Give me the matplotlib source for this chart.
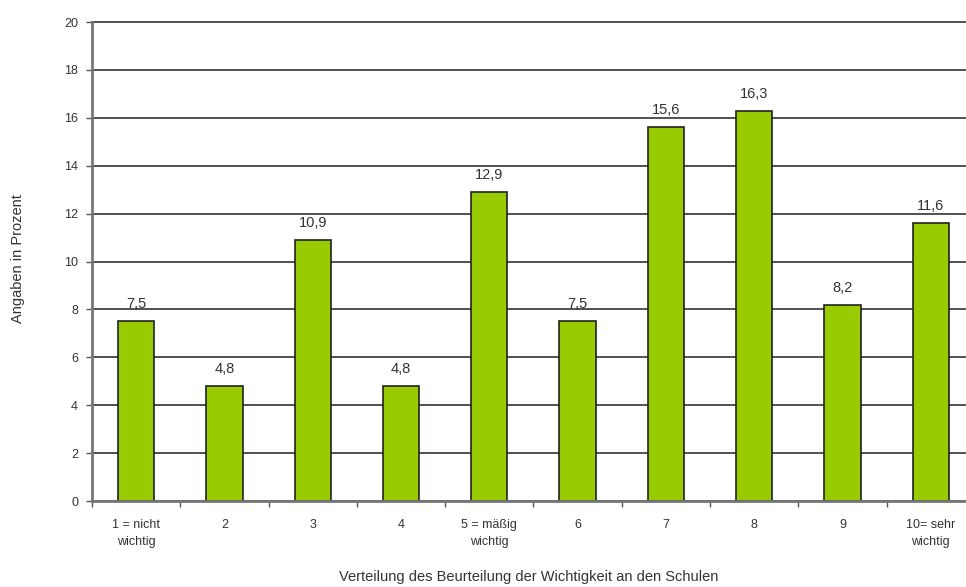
import matplotlib

matplotlib.use("Agg")
import matplotlib.pyplot as plt
import numpy as np

categories = ["1 = nicht\nwichtig", "2", "3", "4", "5 = mäßig\nwichtig",
              "6", "7", "8", "9", "10= sehr\nwichtig"]
values = [7.5, 4.8, 10.9, 4.8, 12.9, 7.5, 15.6, 16.3, 8.2, 11.6]
value_labels = ["7,5", "4,8", "10,9", "4,8", "12,9", "7,5", "15,6", "16,3", "8,2", "11,6"]
yticks = [0, 2, 4, 6, 8, 10, 12, 14, 16, 18, 20]

GREEN = "#99cc00"
INK = "#222222"

plt.rcParams["font.family"] = ["Liberation Sans", "DejaVu Sans"]

fig = plt.figure(figsize=(9.66, 5.87), dpi=100)
ax = fig.add_axes([0.0952, 0.1465, 0.914, 0.816])

x = np.arange(len(categories))
ax.bar(x, values, width=0.41, color=GREEN, edgecolor=INK, linewidth=1.2, zorder=3)
for xi, v, lab in zip(x, values, value_labels):
    ax.text(xi, v + 0.42, lab, ha="center", va="bottom", fontsize=10.5,
            color="#333333", zorder=1)

ax.set_xlim(-0.5, len(categories) - 0.5)
ax.set_ylim(0, 20)
ax.set_yticks(yticks)
ax.set_yticklabels([str(t) for t in yticks], fontsize=9, color="#333333")
ax.yaxis.grid(True, color=INK, linewidth=1.1, zorder=2)
for gl in ax.get_ygridlines():
    gl.set_clip_on(False)
ax.set_axisbelow(False)

ax.set_xticks(x)
ax.set_xticklabels(categories, fontsize=9, color="#333333", linespacing=1.5)
ax.set_xticks(np.arange(len(categories) + 1) - 0.5, minor=True)
ax.tick_params(axis="x", which="major", length=0, pad=13)
ax.tick_params(axis="x", which="minor", length=4, width=1, color="#555555")
ax.tick_params(axis="y", length=4, width=1, color="#555555", pad=6)

for side in ("top", "right"):
    ax.spines[side].set_visible(False)
ax.spines["left"].set_color("#777777")
ax.spines["left"].set_linewidth(2)
ax.spines["left"].set_zorder(4)
ax.spines["bottom"].set_color("#777777")
ax.spines["bottom"].set_linewidth(2)
ax.spines["bottom"].set_zorder(4)

fig.text(0.019, 0.559, "Angaben in Prozent", rotation=90, ha="center", va="center",
         fontsize=10.5, color="#333333")
fig.text(0.547, 0.017, "Verteilung des Beurteilung der Wichtigkeit an den Schulen",
         ha="center", va="center", fontsize=10.5, color="#333333")

fig.savefig("out.png", dpi=100, facecolor="white")
